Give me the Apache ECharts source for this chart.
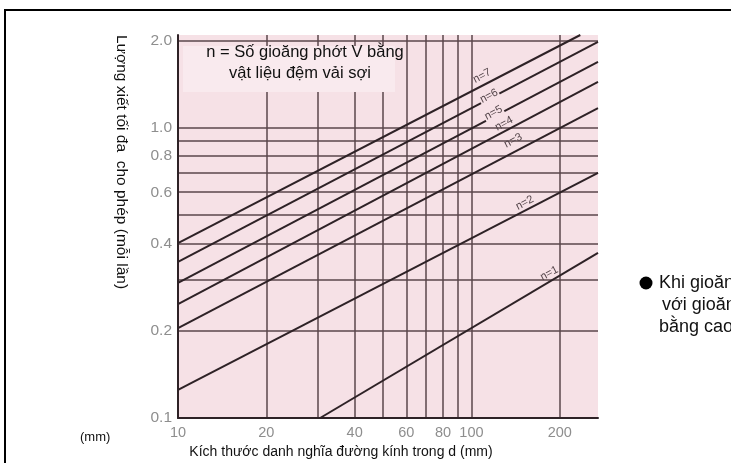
<!DOCTYPE html>
<html><head><meta charset="utf-8">
<script src="https://cdn.jsdelivr.net/npm/echarts@6/dist/echarts.min.js"></script>
<style>html,body{margin:0;padding:0;background:#fff}#c{width:731px;height:463px}</style>
</head><body><div id="c"></div>
<script>
// tick / label values
const xTicks = [10, 20, 30, 40, 50, 60, 70, 80, 90, 100, 200];
const xLabels = [10, 20, 40, 60, 80, 100, 200];
const yTicks = [0.1, 0.2, 0.3, 0.4, 0.5, 0.6, 0.7, 0.8, 0.9, 1.0, 2.0];
const yLabels = [0.1, 0.2, 0.4, 0.6, 0.8, 1.0, 2.0];

// lines (d in mm, allowable tightening in mm)
const seriesNames = ['n=7', 'n=6', 'n=5', 'n=4', 'n=3', 'n=2', 'n=1'];
const n7 = [[10, 0.401], [235, 2.09]];
const n6 = [[10, 0.345], [270, 1.98]];
const n5 = [[10, 0.292], [270, 1.69]];
const n4 = [[10, 0.247], [270, 1.44]];
const n3 = [[10, 0.204], [270, 1.17]];
const n2 = [[10, 0.125], [270, 0.70]];
const n1 = [[30.5, 0.1], [270, 0.371]];
const lineData = [n7, n6, n5, n4, n3, n2, n1];
// where along each line (d value) its "n=" label sits, and how far above the line
const labelAtX = [116, 117, 122, 136, 150, 160, 194];
const labelLift = [10, 3, 4, 8, 12, 8, 8];

const FONT = 'Liberation Sans, Arial, sans-serif';
const LINE_COLOR = '#2e2226';
const GRID_COLOR = '#5a464b';
const PINK = '#f6e1e6';

function onLine(pts, x) {
  const [a, b] = pts;
  const t = (Math.log10(x) - Math.log10(a[0])) / (Math.log10(b[0]) - Math.log10(a[0]));
  return Math.pow(10, Math.log10(a[1]) + t * (Math.log10(b[1]) - Math.log10(a[1])));
}

const series = lineData.map((pts, i) => ({
  name: seriesNames[i],
  type: 'line',
  data: pts,
  showSymbol: false,
  symbol: 'none',
  silent: true,
  lineStyle: { color: LINE_COLOR, width: 2 },
  z: 3,
  markPoint: {
    symbol: 'circle', symbolSize: 0, silent: true,
    data: [{ coord: [labelAtX[i], onLine(pts, labelAtX[i])] }],
    label: {
      show: true, formatter: seriesNames[i], rotate: 28,
      offset: [-0.47 * labelLift[i], -0.88 * labelLift[i]],
      color: '#54454a', fontSize: 11, fontFamily: FONT,
      backgroundColor: labelLift[i] < 6 ? PINK : 'transparent', padding: [0, 1]
    }
  }
}));

const chart = echarts.init(document.getElementById('c'), null, { renderer: 'canvas' });
chart.setOption({
  animation: false,
  backgroundColor: '#ffffff',
  grid: { left: 178, top: 35, right: 133, bottom: 45, show: true, backgroundColor: PINK, borderWidth: 0 },
  xAxis: {
    type: 'log', logBase: 10, min: 10, max: 270,
    axisLine: { show: true, onZero: false, lineStyle: { color: LINE_COLOR, width: 2 } },
    axisTick: { show: false, customValues: xTicks },
    axisLabel: { customValues: xLabels, color: '#8e8e8e', fontSize: 14.5, margin: 7, fontFamily: FONT },
    splitLine: { show: true, lineStyle: { color: GRID_COLOR, width: 1.5 } },
    minorTick: { show: false }, minorSplitLine: { show: false }
  },
  yAxis: {
    type: 'log', logBase: 10, min: 0.1, max: 2.09,
    axisLine: { show: true, onZero: false, lineStyle: { color: LINE_COLOR, width: 2 } },
    axisTick: { show: false, customValues: yTicks },
    axisLabel: { customValues: yLabels, formatter: v => Number(v).toFixed(1), color: '#8e8e8e', fontSize: 15.5, margin: 6, fontFamily: FONT },
    splitLine: { show: true, lineStyle: { color: GRID_COLOR, width: 1.5 } },
    minorTick: { show: false }, minorSplitLine: { show: false }
  },
  graphic: [
    { type: 'rect', z: 100, shape: { x: 5, y: 10, width: 900, height: 600 }, style: { fill: 'none', stroke: '#000', lineWidth: 2 } },
    { type: 'rect', z: 1, shape: { x: 183, y: 46, width: 212, height: 46 }, style: { fill: '#f9eaee' } },
    { type: 'text', z: 10, x: 305, y: 52, style: { text: 'n = Số gioăng phớt V bằng', font: '16.5px ' + FONT, fill: '#111', textAlign: 'center', textVerticalAlign: 'middle' } },
    { type: 'text', z: 10, x: 300, y: 73, style: { text: 'vật liệu đệm vải sợi', font: '16.5px ' + FONT, fill: '#111', textAlign: 'center', textVerticalAlign: 'middle' } },
    { type: 'text', z: 10, x: 121, y: 35, rotation: -Math.PI / 2, style: { text: 'Lượng xiết tối đa  cho phép (mỗi lần)', font: '15.5px ' + FONT, fill: '#111', textAlign: 'left', textVerticalAlign: 'middle' } },
    { type: 'text', z: 10, x: 80, y: 437, style: { text: '(mm)', font: '13px ' + FONT, fill: '#111', textAlign: 'left', textVerticalAlign: 'middle' } },
    { type: 'text', z: 10, x: 341, y: 452, style: { text: 'Kích thước danh nghĩa đường kính trong d (mm)', font: '14px ' + FONT, fill: '#111', textAlign: 'center', textVerticalAlign: 'middle' } },
    { type: 'circle', z: 10, shape: { cx: 646, cy: 283, r: 6.5 }, style: { fill: '#000' } },
    { type: 'text', z: 10, x: 659, y: 283, style: { text: 'Khi gioăng', font: '18px ' + FONT, fill: '#111', textAlign: 'left', textVerticalAlign: 'middle' } },
    { type: 'text', z: 10, x: 662, y: 305, style: { text: 'với gioăng', font: '18px ' + FONT, fill: '#111', textAlign: 'left', textVerticalAlign: 'middle' } },
    { type: 'text', z: 10, x: 659, y: 327, style: { text: 'bằng cao su', font: '18px ' + FONT, fill: '#111', textAlign: 'left', textVerticalAlign: 'middle' } }
  ],
  series: series
});
</script></body></html>
